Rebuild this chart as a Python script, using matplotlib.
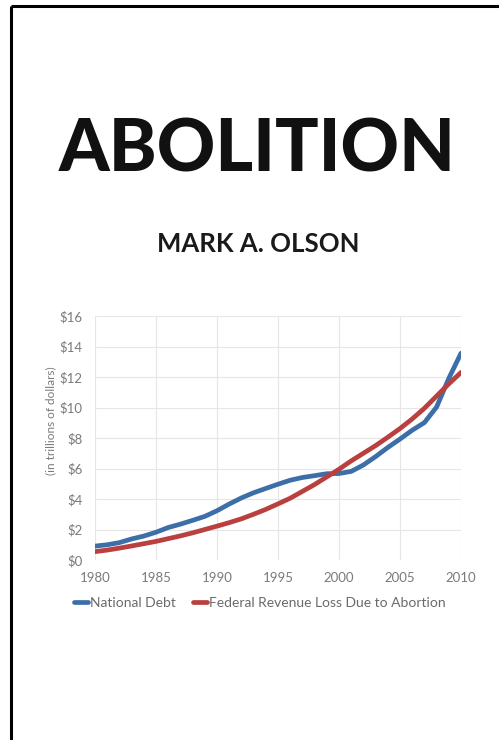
import matplotlib
matplotlib.use("Agg")
import matplotlib.pyplot as plt
from matplotlib.lines import Line2D

years = list(range(1980, 2011))
national_debt = [0.91, 1.00, 1.14, 1.38, 1.57, 1.82, 2.13, 2.35, 2.60, 2.86,
                 3.23, 3.67, 4.07, 4.41, 4.69, 4.97, 5.23, 5.41, 5.53, 5.66,
                 5.67, 5.81, 6.23, 6.78, 7.38, 7.93, 8.51, 9.01, 10.03, 11.91,
                 13.56]
revenue_loss = [0.55, 0.65, 0.78, 0.92, 1.07, 1.22, 1.40, 1.58, 1.78, 2.00,
                2.22, 2.45, 2.70, 3.00, 3.32, 3.68, 4.05, 4.50, 4.95, 5.45,
                5.95, 6.50, 7.00, 7.50, 8.05, 8.62, 9.25, 9.95, 10.75, 11.55,
                12.30]
series_names = ["National Debt", "Federal Revenue Loss Due to Abortion"]
x_ticks = [1980, 1985, 1990, 1995, 2000, 2005, 2010]
y_ticks = [0, 2, 4, 6, 8, 10, 12, 14, 16]
title = "ABOLITION"
author = "MARK A. OLSON"
y_label = "(in trillions of dollars)"

W, H = 499, 740
fig = plt.figure(figsize=(W / 100, H / 100), dpi=100)
fig.patch.set_facecolor("white")

# cover border (top and left)
fig.add_artist(Line2D([11 / W, 1], [1 - 6 / H, 1 - 6 / H], color="black", lw=2.2,
                      transform=fig.transFigure, solid_capstyle="butt"))
fig.add_artist(Line2D([11 / W, 11 / W], [0, 1 - 6 / H], color="black", lw=2.2,
                      transform=fig.transFigure, solid_capstyle="butt"))

fig.text(257.5 / W, 1 - 172 / H, title, ha="center", va="baseline",
         fontsize=52, fontweight=900, family="Lato", color="#111111")
fig.text(258 / W, 1 - 252 / H, author, ha="center", va="baseline",
         fontsize=18.5, fontweight="bold", family="Lato", color="#1a1a1a")

ax = fig.add_axes([95 / W, 1 - 560 / H, (461 - 95) / W, (560 - 316) / H])
grid_c = "#e6e6e6"
ax.plot(years, national_debt, color="#3c6ea8", lw=3.4, solid_joinstyle="round",
        solid_capstyle="round", label=series_names[0], zorder=3)
ax.plot(years, revenue_loss, color="#b9403f", lw=3.4, solid_joinstyle="round",
        solid_capstyle="round", label=series_names[1], zorder=3)
ax.set_xlim(1980, 2010)
ax.set_ylim(0, 16)
ax.set_xticks(x_ticks)
ax.set_yticks(y_ticks)
ax.set_yticklabels([f"${v}" for v in y_ticks])
ax.grid(True, color=grid_c, lw=0.8)
ax.set_axisbelow(True)
for s in ax.spines.values():
    s.set_visible(False)
ax.tick_params(length=0, labelsize=9.5, colors="#7a7a7a", pad=9)
for lab in ax.get_xticklabels() + ax.get_yticklabels():
    lab.set_family("Lato")
ax.set_ylabel(y_label, fontsize=8.5, color="#7a7a7a", family="Lato")
ax.yaxis.set_label_coords(-0.107, 0.57)

handles, labels = ax.get_legend_handles_labels()
leg = fig.legend(handles, labels, loc="center", bbox_to_anchor=(260 / W, 1 - 603 / H),
                 ncol=2, frameon=False, handlelength=1.0, handletextpad=0.15,
                 columnspacing=1.2, prop={"family": "Lato", "size": 10})
for t in leg.get_texts():
    t.set_color("#6a6a6a")

fig.savefig("out.png", dpi=100, facecolor="white")
